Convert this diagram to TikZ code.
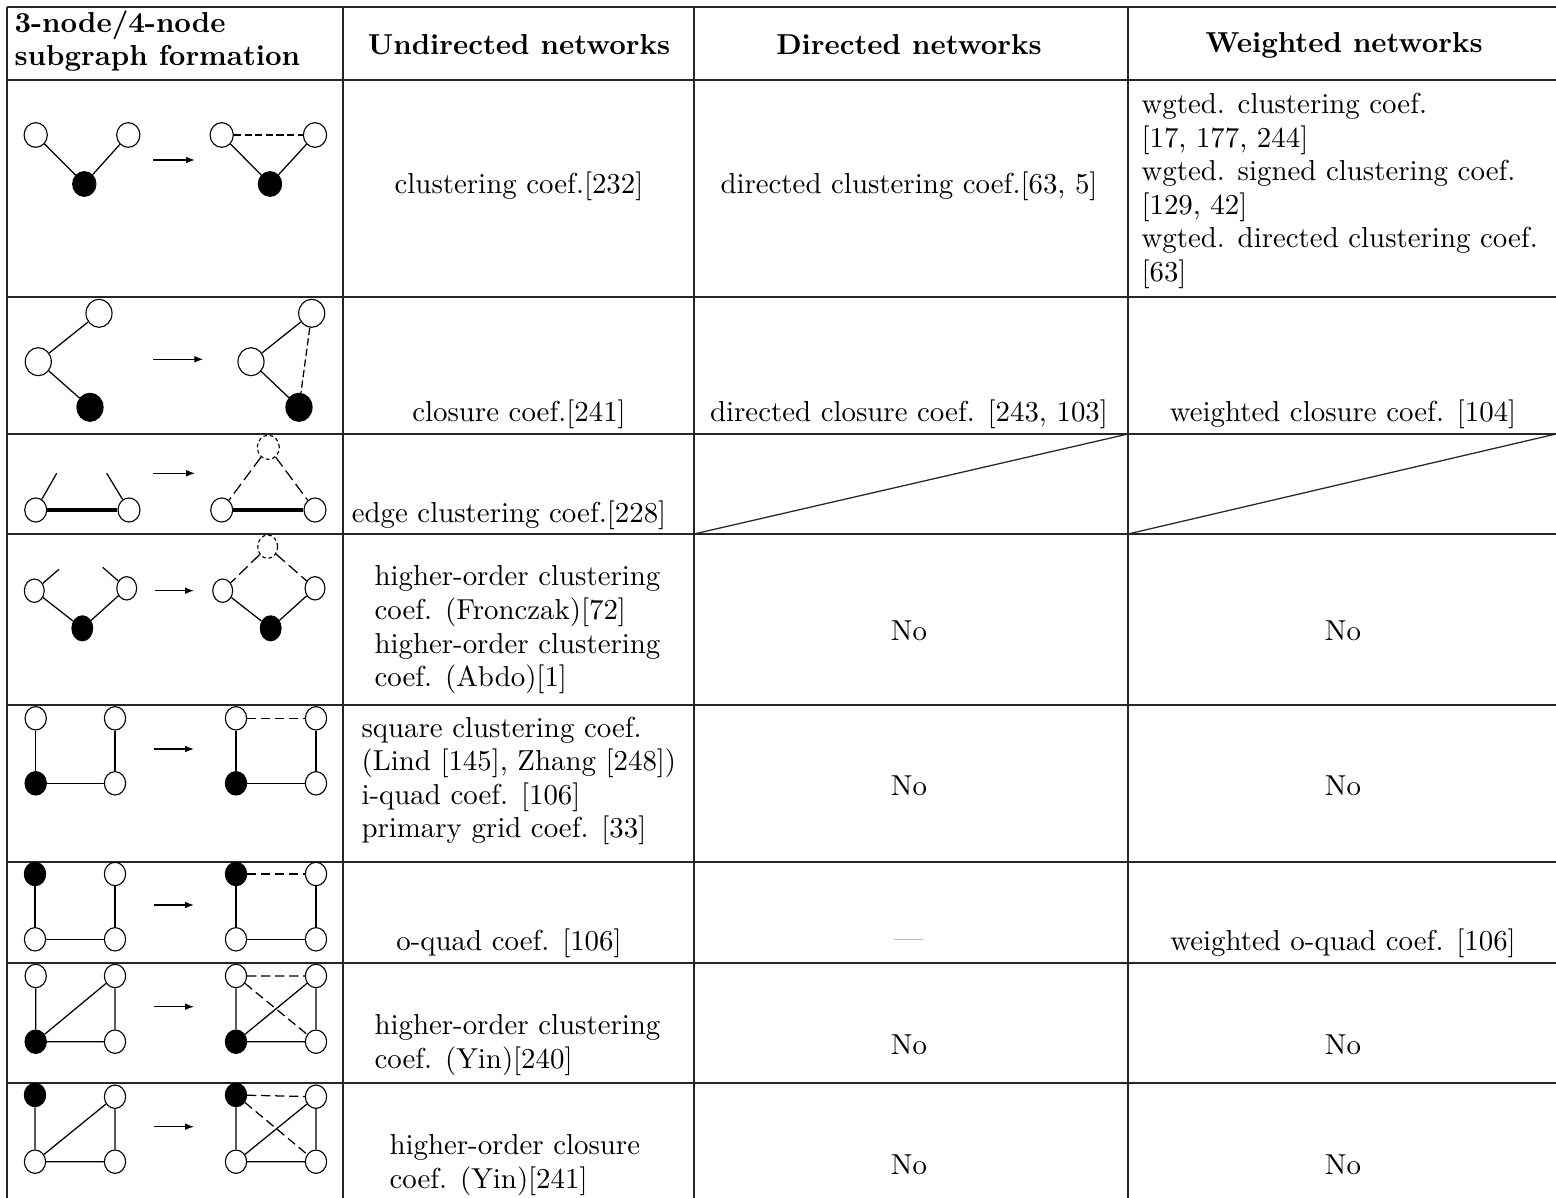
\documentclass[tikz,border=0pt]{standalone}
\usepackage{fix-cm}
\usetikzlibrary{shapes.geometric,arrows.meta}
\begin{document}
\begin{tikzpicture}[x=0.357pt,y=-0.357pt,
  every node/.style={font=\fontsize{10.3}{12}\selectfont},
  grid/.style={line width=0.45pt,black!85},
  vtx/.style={ellipse,draw,fill=white,inner sep=0pt,line width=0.4pt,
              minimum width=\nodew,minimum height=\nodeh},
  hub/.style={vtx,fill=black},
  ghost/.style={vtx,dash pattern=on 1.3pt off 1pt},
  tie/.style={line width=0.45pt},
  thicktie/.style={line width=1.1pt},
  newtie/.style={tie,dash pattern=on 2.6pt off 1.2pt},
  squaredash/.style={tie,dash pattern=on 3.3pt off 1.7pt},
  longdash/.style={tie,dash pattern=on 4.2pt off 1.8pt},
  turn/.style={line width=0.45pt,-{Latex[length=3.2pt,width=2.4pt]}},
  cell/.style={inner sep=0pt},
  block/.style={cell,align=left,anchor=west}]
\useasboundingbox (0,0) rectangle (1556,1198);
\def\nodew{8pt}\def\nodeh{8.6pt}

% ---- table rules ----
\foreach \yy in {7,80,297,434,534,705,862,963,1083}
  \draw[grid] (7,\yy) -- (1556,\yy);
\foreach \xx in {7,343,694,1128}
  \draw[grid] (\xx,7) -- (\xx,1198);
\draw[grid] (694,534) -- (1128,434);
\draw[grid] (1128,534) -- (1556,434);

% ---- header ----
\node[block] (h0) at (14,41) {\textbf{3-node/4-node}\\\textbf{subgraph formation}};
\node[cell] (h1) at (519,45) {\textbf{Undirected networks}};
\node[cell] (h2) at (909,45) {\textbf{Directed networks}};
\node[cell] (h3) at (1344,45) {\textbf{Weighted networks}};

% ---- row 1: open triad closing ----
\begin{scope}
\def\nodew{8.3pt}\def\nodeh{8.8pt}
\node[vtx] (a1) at (35.7,135) {};
\node[vtx] (a2) at (128.3,135) {};
\node[hub] (a3) at (84.3,184) {};
\draw[tie] (a1) -- (a3) (a2) -- (a3);
\coordinate (a4) at (153,160); \coordinate (a5) at (195,160);
\draw[turn] (a4) -- (a5);
\node[vtx] (b1) at (221.7,135) {};
\node[vtx] (b2) at (315,135) {};
\node[hub] (b3) at (270,184) {};
\draw[tie] (b1) -- (b3) (b2) -- (b3);
\draw[newtie] (b1) -- (b2);
\end{scope}
\node[cell] (t11) at (519,186) {clustering coef.[232]};
\node[cell] (t12) at (909,186) {directed clustering coef.[63, 5]};
\node[block] (t13) at (1141,191) {wgted. clustering coef.\\{}[17, 177, 244]\\wgted. signed clustering coef.\\{}[129, 42]\\wgted. directed clustering coef.\\{}[63]};

% ---- row 2: closure from the end node ----
\begin{scope}
\def\nodew{9.3pt}\def\nodeh{10pt}
\node[vtx] (c1) at (99,313.3) {};
\node[vtx] (c2) at (38.3,361.7) {};
\node[hub] (c3) at (90,407.3) {};
\draw[tie] (c1) -- (c2) (c2) -- (c3);
\coordinate (c4) at (153.3,359.3); \coordinate (c5) at (203.3,359.3);
\draw[turn] (c4) -- (c5);
\node[vtx] (d1) at (311.7,313.3) {};
\node[vtx] (d2) at (251,361.7) {};
\node[hub] (d3) at (299,407.3) {};
\draw[tie] (d1) -- (d2) (d2) -- (d3);
\draw[newtie] (d1) -- (d3);
\end{scope}
\node[cell] (t21) at (519,414) {closure coef.[241]};
\node[cell] (t22) at (909,414) {directed closure coef. [243, 103]};
\node[cell] (t23) at (1343,414) {weighted closure coef. [104]};

% ---- row 3: edge clustering ----
\begin{scope}
\def\nodew{7.85pt}\def\nodeh{8.6pt}
\node[vtx] (e1) at (35.7,510) {};
\node[vtx] (e2) at (129,510) {};
\draw[thicktie] (e1) -- (e2);
\coordinate (e3) at (56.7,473.3); \coordinate (e4) at (106.7,473.3);
\draw[tie] (e1) -- (e3) (e2) -- (e4);
\coordinate (e5) at (153.3,473.3); \coordinate (e6) at (195,473.3);
\draw[turn] (e5) -- (e6);
\node[ghost] (f0) at (268.3,447.3) {};
\node[vtx] (f1) at (221.7,510) {};
\node[vtx] (f2) at (315,510) {};
\draw[thicktie] (f1) -- (f2);
\draw[longdash] (f0) -- (f1) (f0) -- (f2);
\end{scope}
\node[cell] (t31) at (509,515) {edge clustering coef.[228]};

% ---- row 4: higher-order clustering ----
\begin{scope}
\def\nodew{7.1pt}\def\nodeh{8.35pt}
\node[vtx] (g1) at (34.3,590.7) {};
\node[vtx] (g2) at (126.7,588.3) {};
\node[hub,minimum width=7.4pt,minimum height=8.9pt] (g3) at (82.3,628.3) {};
\draw[tie] (g1) -- (g3) (g2) -- (g3);
\coordinate (g4) at (59,569.3); \coordinate (g5) at (102.7,567.3);
\draw[tie] (g1) -- (g4) (g2) -- (g5);
\coordinate (g6) at (155,590.7); \coordinate (g7) at (194,590.7);
\draw[turn] (g6) -- (g7);
\node[ghost] (k0) at (267.7,546.7) {};
\node[vtx] (k1) at (222.7,590.7) {};
\node[vtx] (k2) at (315,588.3) {};
\node[hub,minimum width=7.4pt,minimum height=8.9pt] (k3) at (270.7,628.3) {};
\draw[tie] (k1) -- (k3) (k2) -- (k3);
\draw[longdash] (k0) -- (k1) (k0) -- (k2);
\end{scope}
\node[block] (t41) at (374,630) {higher-order clustering\\coef. (Fronczak)[72]\\higher-order clustering\\coef. (Abdo)[1]};
\node[cell] (t42) at (909,631) {No};
\node[cell] (t43) at (1343,631) {No};

% ---- rows 5--8: four-node motifs ----
\begin{scope}
\def\nodew{7.6pt}\def\nodeh{8.35pt}
% row 5
\node[vtx] (i1) at (35.7,718.3) {};
\node[vtx] (i2) at (115,718.3) {};
\node[hub] (i3) at (35.7,783.3) {};
\node[vtx] (i4) at (115,783.3) {};
\draw[tie] (i1) -- (i3) (i3) -- (i4) (i2) -- (i4);
\coordinate (i5) at (154.3,749); \coordinate (i6) at (194,749);
\draw[turn] (i5) -- (i6);
\node[vtx] (j1) at (236,718.3) {};
\node[vtx] (j2) at (316,718.3) {};
\node[hub] (j3) at (236,783.3) {};
\node[vtx] (j4) at (316,783.3) {};
\draw[tie] (j1) -- (j3) (j3) -- (j4) (j2) -- (j4);
\draw[squaredash] (j1) -- (j2);
% row 6
\node[hub] (l1) at (35,874) {};
\node[vtx] (l2) at (115,874) {};
\node[vtx] (l3) at (35,939.3) {};
\node[vtx] (l4) at (115,939.3) {};
\draw[tie] (l1) -- (l3) (l3) -- (l4) (l2) -- (l4);
\coordinate (l5) at (154.3,905); \coordinate (l6) at (194,905);
\draw[turn] (l5) -- (l6);
\node[hub] (q1) at (236,874) {};
\node[vtx] (q2) at (316,874) {};
\node[vtx] (q3) at (236,939.3) {};
\node[vtx] (q4) at (316,939.3) {};
\draw[tie] (q1) -- (q3) (q3) -- (q4) (q2) -- (q4);
\draw[squaredash] (q1) -- (q2);
% row 7
\node[vtx] (m1) at (35.7,976) {};
\node[vtx] (m2) at (115,976) {};
\node[hub] (m3) at (35.7,1041.7) {};
\node[vtx] (m4) at (115,1041.7) {};
\draw[tie] (m1) -- (m3) (m3) -- (m4) (m2) -- (m4) (m3) -- (m2);
\coordinate (m5) at (154.3,1006.7); \coordinate (m6) at (194,1006.7);
\draw[turn] (m5) -- (m6);
\node[vtx] (n1) at (236,976) {};
\node[vtx] (n2) at (316,976) {};
\node[hub] (n3) at (236,1041.7) {};
\node[vtx] (n4) at (316,1041.7) {};
\draw[tie] (n1) -- (n3) (n3) -- (n4) (n2) -- (n4) (n3) -- (n2);
\draw[squaredash] (n1) -- (n2) (n1) -- (n4);
% row 8
\node[hub] (o1) at (35,1095) {};
\node[vtx] (o2) at (115,1096.7) {};
\node[vtx] (o3) at (35,1161.7) {};
\node[vtx] (o4) at (115,1161.7) {};
\draw[tie] (o1) -- (o3) (o3) -- (o4) (o2) -- (o4) (o3) -- (o2);
\coordinate (o5) at (154.3,1126.7); \coordinate (o6) at (194,1126.7);
\draw[turn] (o5) -- (o6);
\node[hub] (p1) at (236,1095) {};
\node[vtx] (p2) at (316,1096.7) {};
\node[vtx] (p3) at (236,1161.7) {};
\node[vtx] (p4) at (316,1161.7) {};
\draw[tie] (p1) -- (p3) (p3) -- (p4) (p2) -- (p4) (p3) -- (p2);
\draw[squaredash] (p1) -- (p2) (p1) -- (p4);
\end{scope}

\node[block] (t51) at (361,781) {square clustering coef.\\(Lind [145], Zhang [248])\\i-quad coef. [106]\\primary grid coef. [33]};
\node[cell] (t52) at (909,786) {No};
\node[cell] (t53) at (1343,786) {No};

\node[cell] (t61) at (509,943) {o-quad coef. [106]};
\node[cell,text=black!45] (t62) at (909,943) {---};
\node[cell] (t63) at (1343,943) {weighted o-quad coef. [106]};

\node[block] (t71) at (374,1045) {higher-order clustering\\coef. (Yin)[240]};
\node[cell] (t72) at (909,1045) {No};
\node[cell] (t73) at (1343,1045) {No};

\node[block] (t81) at (389,1165) {higher-order closure\\coef. (Yin)[241]};
\node[cell] (t82) at (909,1165) {No};
\node[cell] (t83) at (1343,1165) {No};
\end{tikzpicture}
\end{document}
